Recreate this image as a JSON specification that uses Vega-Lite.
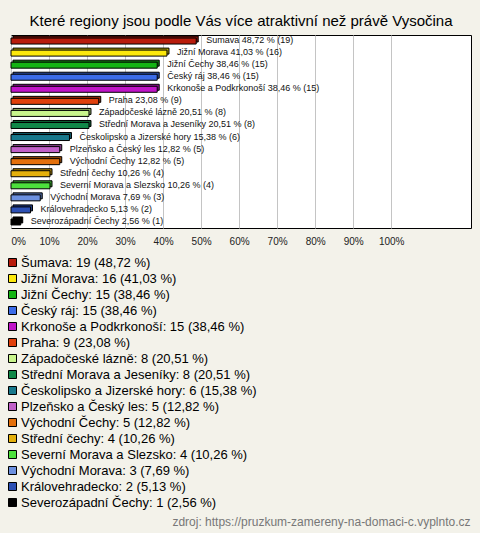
{
  "$schema": "https://vega.github.io/schema/vega-lite/v6.json",
  "autosize": {"type": "none"},
  "width": 460,
  "height": 193,
  "padding": {"left": 11, "top": 35, "right": 9, "bottom": 305},
  "background": "#f3f2ea",
  "view": {"fill": "white", "stroke": "black", "strokeWidth": 1},
  "title": {
    "text": "Které regiony jsou podle Vás více atraktivní než právě Vysočina",
    "font": "Liberation Sans",
    "fontSize": 15,
    "fontWeight": "normal",
    "color": "black",
    "anchor": "middle",
    "baseline": "alphabetic",
    "offset": -6
  },
  "data": {
    "values": [
      {"name": "Šumava", "count": 19, "pct": 0.4872, "label": "Šumava 48,72 % (19)", "legend": "Šumava: 19 (48,72 %)"},
      {"name": "Jižní Morava", "count": 16, "pct": 0.4103, "label": "Jižní Morava 41,03 % (16)", "legend": "Jižní Morava: 16 (41,03 %)"},
      {"name": "Jižní Čechy", "count": 15, "pct": 0.3846, "label": "Jižní Čechy 38,46 % (15)", "legend": "Jižní Čechy: 15 (38,46 %)"},
      {"name": "Český ráj", "count": 15, "pct": 0.3846, "label": "Český ráj 38,46 % (15)", "legend": "Český ráj: 15 (38,46 %)"},
      {"name": "Krkonoše a Podkrkonoší", "count": 15, "pct": 0.3846, "label": "Krkonoše a Podkrkonoší 38,46 % (15)", "legend": "Krkonoše a Podkrkonoší: 15 (38,46 %)"},
      {"name": "Praha", "count": 9, "pct": 0.2308, "label": "Praha 23,08 % (9)", "legend": "Praha: 9 (23,08 %)"},
      {"name": "Západočeské lázně", "count": 8, "pct": 0.2051, "label": "Západočeské lázně 20,51 % (8)", "legend": "Západočeské lázně: 8 (20,51 %)"},
      {"name": "Střední Morava a Jeseníky", "count": 8, "pct": 0.2051, "label": "Střední Morava a Jeseníky 20,51 % (8)", "legend": "Střední Morava a Jeseníky: 8 (20,51 %)"},
      {"name": "Českolipsko a Jizerské hory", "count": 6, "pct": 0.1538, "label": "Českolipsko a Jizerské hory 15,38 % (6)", "legend": "Českolipsko a Jizerské hory: 6 (15,38 %)"},
      {"name": "Plzeňsko a Český les", "count": 5, "pct": 0.1282, "label": "Plzeňsko a Český les 12,82 % (5)", "legend": "Plzeňsko a Český les: 5 (12,82 %)"},
      {"name": "Východní Čechy", "count": 5, "pct": 0.1282, "label": "Východní Čechy 12,82 % (5)", "legend": "Východní Čechy: 5 (12,82 %)"},
      {"name": "Střední čechy", "count": 4, "pct": 0.1026, "label": "Střední čechy 10,26 % (4)", "legend": "Střední čechy: 4 (10,26 %)"},
      {"name": "Severní Morava a Slezsko", "count": 4, "pct": 0.1026, "label": "Severní Morava a Slezsko 10,26 % (4)", "legend": "Severní Morava a Slezsko: 4 (10,26 %)"},
      {"name": "Východní Morava", "count": 3, "pct": 0.0769, "label": "Východní Morava 7,69 % (3)", "legend": "Východní Morava: 3 (7,69 %)"},
      {"name": "Královehradecko", "count": 2, "pct": 0.0513, "label": "Královehradecko 5,13 % (2)", "legend": "Královehradecko: 2 (5,13 %)"},
      {"name": "Severozápadní Čechy", "count": 1, "pct": 0.0256, "label": "Severozápadní Čechy 2,56 % (1)", "legend": "Severozápadní Čechy: 1 (2,56 %)"}
    ]
  },
  "encoding": {
    "y": {
      "field": "name",
      "type": "nominal",
      "sort": null,
      "axis": null,
      "scale": {"paddingInner": 0, "paddingOuter": 0}
    }
  },
  "layer": [
    {
      "mark": {"type": "bar", "size": 6, "xOffset": 2, "yOffset": -2, "stroke": "black", "strokeWidth": 1},
      "encoding": {
        "x": {
          "field": "pct",
          "type": "quantitative",
          "scale": {"domain": [0, 1.21], "nice": false},
          "axis": {
            "values": [0, 0.1, 0.2, 0.3, 0.4, 0.5, 0.6, 0.7, 0.8, 0.9, 1],
            "format": ".0%",
            "grid": true,
            "gridColor": "#c4c4c4",
            "gridWidth": 1,
            "domain": false,
            "ticks": false,
            "labelFlush": true,
            "labelPadding": 8,
            "labelFont": "Liberation Sans",
            "labelFontSize": 10,
            "labelColor": "#222",
            "title": "zdroj: https://pruzkum-zamereny-na-domaci-c.vyplnto.cz",
            "titleFont": "Liberation Sans",
            "titleFontSize": 12,
            "titleFontWeight": "normal",
            "titleColor": "#777",
            "titleAnchor": "end",
            "titleAlign": "right",
            "titleBaseline": "alphabetic",
            "titleX": 459,
            "titleY": 297
          }
        },
        "color": {
          "field": "legend",
          "type": "nominal",
          "sort": null,
          "scale": {
            "range": ["#b81c0c", "#fce80c", "#14b414", "#3c6ce8", "#c014c8", "#e0400c", "#c8f48c", "#108848", "#18788c", "#c060c8", "#e4700c", "#e4b00c", "#4ce03c", "#6c90e0", "#2c50b4", "#000000"]
          },
          "legend": {
            "orient": "none",
            "legendX": -5,
            "legendY": 221,
            "title": null,
            "symbolType": "square",
            "symbolSize": 64,
            "symbolStrokeColor": "black",
            "symbolStrokeWidth": 1,
            "symbolOpacity": 1,
            "labelFont": "Liberation Sans",
            "labelFontSize": 13,
            "labelColor": "black",
            "labelLimit": 0,
            "labelOffset": 2,
            "rowPadding": 2,
            "padding": 0
          }
        }
      }
    },
    {
      "mark": {"type": "bar", "size": 6, "xOffset": 2, "yOffset": -2, "fill": "black", "fillOpacity": 0.3},
      "encoding": {
        "x": {"field": "pct", "type": "quantitative"}
      }
    },
    {
      "mark": {"type": "bar", "size": 6, "stroke": "black", "strokeWidth": 1},
      "encoding": {
        "x": {"field": "pct", "type": "quantitative"},
        "color": {"field": "legend", "type": "nominal", "sort": null}
      }
    },
    {
      "mark": {"type": "text", "align": "left", "baseline": "middle", "dx": 10, "dy": -1, "font": "Liberation Sans", "fontSize": 9, "color": "#111"},
      "encoding": {
        "x": {"field": "pct", "type": "quantitative"},
        "text": {"field": "label"}
      }
    }
  ]
}
